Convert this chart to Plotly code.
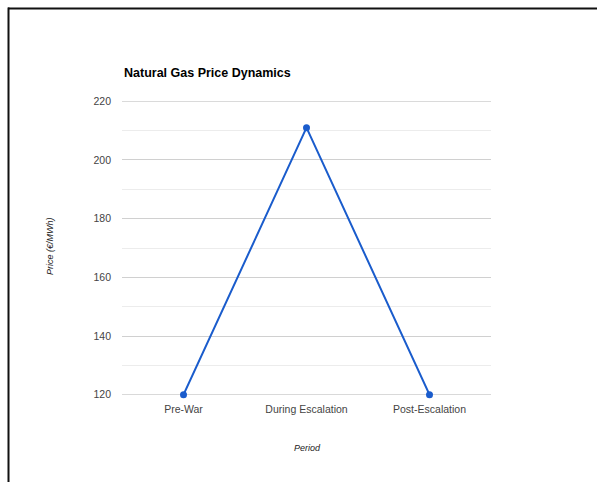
import plotly.graph_objects as go

# Data
periods = ["Pre-War", "During Escalation", "Post-Escalation"]
prices = [120, 211, 120]
y_ticks = [120, 140, 160, 180, 200, 220]
y_min, y_max = 120, 220

W, H = 597, 482
L, R, T, B = 122, 491, 101, 395  # plot area in pixels

def px_x(x):
    return (x - L) / (R - L)

def px_y(y):
    return (B - y) / (B - T)

fig = go.Figure()
fig.add_trace(go.Scatter(
    x=periods, y=prices,
    mode="lines+markers",
    line=dict(color="#1a5ccc", width=2),
    marker=dict(color="#1a5ccc", size=7),
    cliponaxis=False,
    showlegend=False,
))

axis_font = dict(family="Arial, Liberation Sans, sans-serif", size=10.5, color="#444444")

# Gridlines on the range edges (plotly skips those at the axis limits)
edge_grid = [
    dict(type="line", xref="paper", yref="y", x0=0, x1=1, y0=v, y1=v,
         layer="below", line=dict(color="#d0d0d0", width=1))
    for v in (y_min, y_max)
]

fig.update_layout(
    width=W, height=H,
    margin=dict(l=L, r=W - R, t=T, b=H - B),
    paper_bgcolor="white",
    plot_bgcolor="white",
    font=dict(family="Arial, Liberation Sans, sans-serif"),
    xaxis=dict(
        range=[-0.5, 2.5],
        showgrid=False, zeroline=False, showline=False, ticks="",
        tickfont=axis_font,
        ticklabelstandoff=6,
    ),
    yaxis=dict(
        range=[y_min - 0.1, y_max + 0.1],
        tickvals=y_ticks,
        showgrid=True, gridcolor="#d0d0d0", gridwidth=1,
        zeroline=False, showline=False, ticks="",
        tickfont=axis_font,
        ticklabelstandoff=10,
        minor=dict(dtick=10, tick0=120, showgrid=True, gridcolor="#ececec", gridwidth=1),
    ),
    annotations=[
        dict(text="<b>Natural Gas Price Dynamics</b>", xref="paper", yref="paper",
             x=px_x(122), y=px_y(73), xanchor="left", yanchor="middle",
             showarrow=False, font=dict(size=12.5, color="#000000")),
        dict(text="<i>Price (€/MWh)</i>", xref="paper", yref="paper",
             x=px_x(50), y=px_y(246), xanchor="center", yanchor="middle",
             textangle=-90, showarrow=False, font=dict(size=9, color="#222222")),
        dict(text="<i>Period</i>", xref="paper", yref="paper",
             x=px_x(307), y=px_y(448), xanchor="center", yanchor="middle",
             showarrow=False, font=dict(size=9, color="#222222")),
    ],
    shapes=edge_grid + [
        dict(type="line", xref="paper", yref="paper",
             x0=px_x(8), x1=px_x(600), y0=px_y(8.5), y1=px_y(8.5),
             line=dict(color="#111111", width=2)),
        dict(type="line", xref="paper", yref="paper",
             x0=px_x(8.5), x1=px_x(8.5), y0=px_y(7.5), y1=px_y(485),
             line=dict(color="#111111", width=2)),
    ],
)

fig.write_html("out.html")
